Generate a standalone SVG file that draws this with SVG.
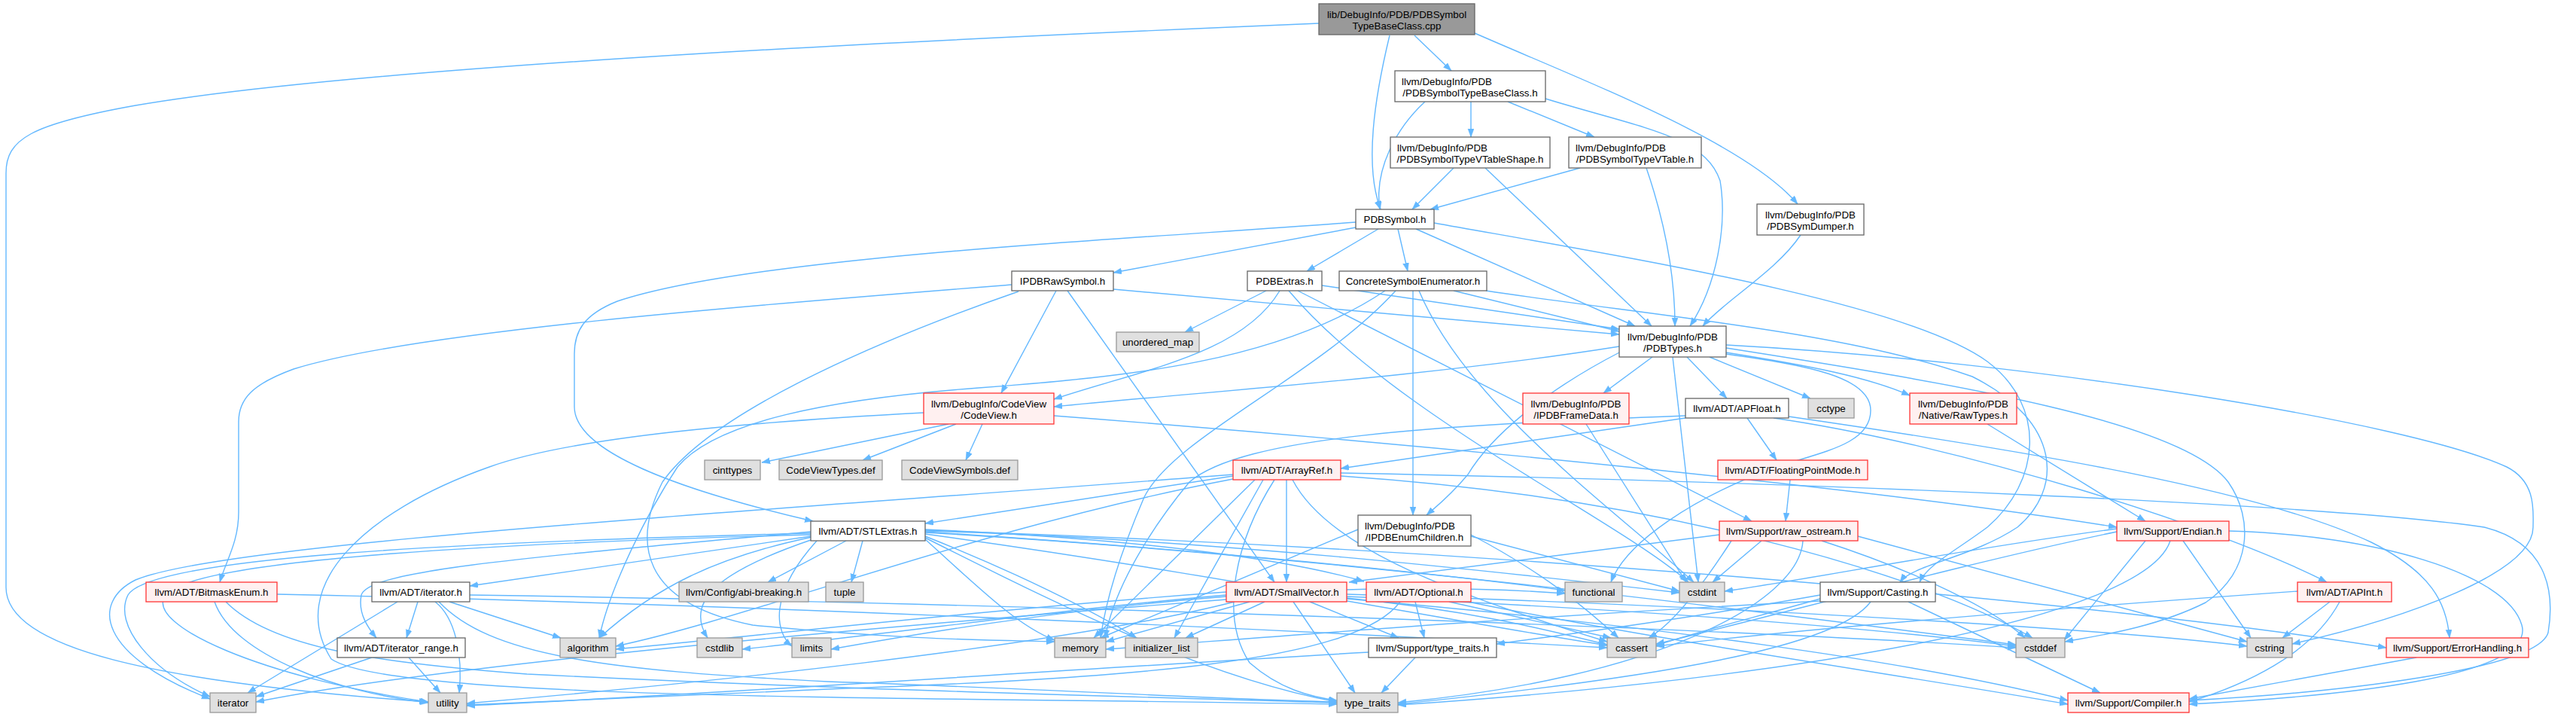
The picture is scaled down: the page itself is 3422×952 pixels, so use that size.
<svg xmlns="http://www.w3.org/2000/svg" width="3422" height="952" viewBox="0 0 3422 952">
<style>
text{font-family:"Liberation Sans",Arial,Helvetica,sans-serif;font-size:13.33px;fill:#000}
.m{text-anchor:middle}
.s{text-anchor:start}
.w{fill:#fff;stroke:#666;stroke-width:1.3}
.g{fill:#e0e0e0;stroke:#999;stroke-width:1.3}
.r{fill:#fff0f0;stroke:#f33;stroke-width:1.3}
.root{fill:#999;stroke:#666;stroke-width:1.3}
.e path{fill:none;stroke:#63b8ff;stroke-width:1.4;marker-end:url(#a)}
</style>
<defs>
<marker id="a" markerUnits="userSpaceOnUse" markerWidth="12" markerHeight="10" refX="11" refY="4" orient="auto">
<path d="M0,0 L11,4 L0,8 z" fill="#63b8ff" stroke="#63b8ff" stroke-width="0.5"/>
</marker>
</defs>
<rect width="3422" height="952" fill="#fff"/>
<g id="connectors" class="e">
<path d="M1879,47 L1928,94"/>
<path d="M1846,47 C1826,130 1812,220 1834,278"/>
<path d="M1959,44 C2110,110 2320,190 2388,271"/>
<path d="M1752,31 C1300,50 500,85 180,140 C40,165 8,185 8,230 L8,780 C8,860 200,905 568,932"/>
<path d="M1893,135 C1855,170 1825,225 1833,278"/>
<path d="M1954,135 L1954,182"/>
<path d="M2003,135 L2118,182"/>
<path d="M2053,131 C2180,170 2265,180 2285,240 C2295,300 2280,380 2245,433"/>
<path d="M1931,223 L1876,278"/>
<path d="M1973,223 L2194,433"/>
<path d="M2099,223 L1900,278"/>
<path d="M2187,223 C2210,290 2225,360 2225,433"/>
<path d="M2392,312 C2360,360 2290,400 2262,433"/>
<path d="M1801,302 L1479,362"/>
<path d="M1831,304 L1736,360"/>
<path d="M1857,304 L1870,360"/>
<path d="M1881,304 L2172,433"/>
<path d="M1801,295 C1500,318 1000,340 820,400 C775,418 763,440 763,470 L763,540 C763,600 900,650 1080,692"/>
<path d="M1905,296 C2150,340 2530,400 2640,480 C2720,540 2710,640 2640,700 C2600,730 2560,750 2550,773"/>
<path d="M1479,384 C1750,410 2000,430 2151,444"/>
<path d="M1403,386 L1330,522"/>
<path d="M1344,378 C1000,405 550,440 390,490 C335,510 317,530 317,560 L317,680 C317,720 300,745 292,773"/>
<path d="M1418,386 L1693,773"/>
<path d="M1353,387 C1200,440 950,540 880,640 C840,720 850,800 1000,830 C1200,850 1330,850 1401,852"/>
<path d="M1682,386 L1574,441"/>
<path d="M1700,386 C1650,470 1520,490 1400,530"/>
<path d="M1756,379 L2151,437"/>
<path d="M1724,386 L2327,692"/>
<path d="M1712,386 C1850,550 2150,690 2243,773"/>
<path d="M1877,386 L1877,684"/>
<path d="M1931,386 L2151,440"/>
<path d="M1974,386 C2200,420 2450,440 2620,500 C2740,560 2740,650 2680,700 C2620,740 2540,750 2524,773"/>
<path d="M1840,386 C1700,480 1500,500 1300,515 C1100,530 950,560 900,620 C860,680 810,780 796,847"/>
<path d="M1885,386 C1950,540 2150,680 2250,773"/>
<path d="M1854,386 C1750,500 1560,580 1520,660 C1490,730 1470,790 1462,847"/>
<path d="M2151,460 C1900,500 1600,520 1400,540"/>
<path d="M2153,467 C2050,520 1980,580 1950,630 C1925,660 1905,675 1895,684"/>
<path d="M2195,474 L2130,522"/>
<path d="M2293,468 C2400,485 2480,500 2537,525"/>
<path d="M2241,474 L2294,529"/>
<path d="M2271,474 L2405,529"/>
<path d="M2293,462 C2600,510 2900,560 2960,640 C2995,690 2990,760 2930,800 C2860,835 2780,845 2743,852"/>
<path d="M2222,474 L2256,773"/>
<path d="M2293,458 C2700,480 3200,560 3330,620 C3370,640 3365,680 3365,700 C3365,760 3200,820 3045,855"/>
<path d="M2293,470 C2400,485 2485,500 2485,545 C2485,590 2420,600 2360,620 C2250,660 2160,720 2140,773"/>
<path d="M1260,563 L1012,614"/>
<path d="M1270,563 L1146,611"/>
<path d="M1305,563 L1283,611"/>
<path d="M1227,548 C1000,560 760,580 650,620 C480,680 380,780 440,875 C520,930 1200,925 1776,935"/>
<path d="M1400,552 C1900,590 2500,650 2812,700"/>
<path d="M2107,563 L2240,773"/>
<path d="M2239,555 L1781,622"/>
<path d="M2321,555 L2360,611"/>
<path d="M2356,555 C2600,590 2950,700 3091,773"/>
<path d="M2376,553 C2700,600 3000,650 3150,720 C3230,760 3250,800 3254,847"/>
<path d="M2239,552 C1900,565 1650,580 1580,640 C1530,700 1480,780 1468,847"/>
<path d="M1638,632 L1229,695"/>
<path d="M1709,637 L1709,773"/>
<path d="M1781,628 C2400,640 3100,670 3300,700 C3380,720 3395,780 3385,840 C3370,890 3100,920 2908,930"/>
<path d="M1638,636 C1300,700 1000,820 818,858"/>
<path d="M1781,632 C2200,660 2550,760 2700,847"/>
<path d="M1678,637 L1560,847"/>
<path d="M1638,630 C1000,680 300,720 180,770 C120,800 130,870 279,928"/>
<path d="M1667,637 L1453,847"/>
<path d="M1717,637 C1760,720 1900,780 2135,852"/>
<path d="M1693,637 C1640,720 1620,820 1660,880 C1700,915 1740,925 1776,930"/>
<path d="M2378,637 L2372,692"/>
<path d="M1124,718 L1020,773"/>
<path d="M1146,718 L1131,773"/>
<path d="M1077,712 L624,778"/>
<path d="M1077,706 C700,740 490,757 480,790 C475,815 490,835 500,847"/>
<path d="M1079,713 C950,740 870,780 796,847"/>
<path d="M1080,716 C950,760 910,800 940,847"/>
<path d="M1085,718 C1020,790 1030,840 1052,858"/>
<path d="M1077,708 C600,720 200,740 170,790 C150,830 200,890 279,925"/>
<path d="M1077,710 C700,720 260,740 220,790 C190,830 350,900 569,932"/>
<path d="M1229,716 C1300,780 1350,830 1401,850"/>
<path d="M1229,712 C1350,760 1450,810 1510,847"/>
<path d="M1229,706 C1600,730 1900,760 2079,784"/>
<path d="M1229,714 C1400,800 1600,900 1776,932"/>
<path d="M1229,709 C1600,760 1900,820 2135,857"/>
<path d="M1229,707 C1800,740 2400,820 2678,856"/>
<path d="M1229,705 C1600,715 2000,760 2231,787"/>
<path d="M1229,703 C1500,715 1700,740 1812,772"/>
<path d="M1229,704 C2000,730 2800,800 3170,860"/>
<path d="M285,799 C310,870 450,920 569,933"/>
<path d="M300,799 C360,860 500,880 700,895 C1100,915 1500,925 1776,933"/>
<path d="M368,789 C900,800 1600,830 2135,860"/>
<path d="M555,799 L540,847"/>
<path d="M597,799 L745,847"/>
<path d="M528,799 L329,920"/>
<path d="M578,799 C605,820 615,870 610,920"/>
<path d="M624,790 C1300,800 2200,830 2678,860"/>
<path d="M583,799 C650,870 800,890 1100,905 C1400,915 1600,928 1776,932"/>
<path d="M494,873 L340,925"/>
<path d="M543,873 L585,920"/>
<path d="M1789,795 C2200,830 2550,880 2747,930"/>
<path d="M1740,799 L1858,847"/>
<path d="M1629,786 C1300,810 1000,845 818,862"/>
<path d="M1789,794 C1950,810 2050,835 2135,856"/>
<path d="M1789,792 C2200,810 2500,835 2678,858"/>
<path d="M1629,790 C1400,810 1200,840 986,862"/>
<path d="M1789,789 C2300,805 2800,835 2985,858"/>
<path d="M1789,783 C1900,780 2000,782 2079,788"/>
<path d="M1680,799 L1575,847"/>
<path d="M1629,796 C1200,830 600,880 340,932"/>
<path d="M1629,792 C1400,810 1200,845 1104,862"/>
<path d="M1660,799 L1469,852"/>
<path d="M1718,799 L1800,920"/>
<path d="M1640,799 C1400,860 900,910 620,934"/>
<path d="M1880,799 L1892,847"/>
<path d="M1950,799 C2200,850 2550,900 2747,935"/>
<path d="M1925,799 L2140,847"/>
<path d="M1860,799 C1800,880 1500,900 1100,915 C900,925 700,932 620,936"/>
<path d="M2535,799 L2790,920"/>
<path d="M2418,790 C2250,820 2100,840 1988,855"/>
<path d="M2418,795 C2330,820 2250,840 2200,857"/>
<path d="M2418,798 C2000,820 1700,845 1469,862"/>
<path d="M2485,799 C2440,860 2200,900 1857,935"/>
<path d="M1954,710 C2050,760 2110,810 2150,847"/>
<path d="M1954,712 L2231,785"/>
<path d="M1804,703 L1462,847"/>
<path d="M2284,710 C2050,740 1900,760 1792,773"/>
<path d="M2340,718 L2275,773"/>
<path d="M2300,718 C2260,780 2220,830 2190,847"/>
<path d="M2420,718 C2550,760 2650,810 2690,847"/>
<path d="M2468,712 L2985,852"/>
<path d="M2395,718 C2390,800 2200,900 1857,933"/>
<path d="M2961,705 C3150,710 3330,760 3350,830 C3370,900 3100,925 2908,935"/>
<path d="M2812,706 C2600,750 2350,820 2200,855"/>
<path d="M2850,718 L2742,850"/>
<path d="M2812,702 C2600,730 2400,770 2291,785"/>
<path d="M2900,718 L2990,847"/>
<path d="M2883,718 C2850,820 2400,900 1857,936"/>
<path d="M3095,799 L3032,847"/>
<path d="M3108,799 C3070,870 2980,910 2908,932"/>
<path d="M3052,785 C2700,810 2400,835 2200,858"/>
<path d="M3210,873 L2908,928"/>
<path d="M1880,873 L1835,920"/>
<path d="M1818,866 C1400,890 900,925 620,937"/>
<path d="M2640,563 L2850,692"/>
</g>
<g id="n0"><rect class="root" x="1752" y="5" width="207" height="41"/><text class="m" x="1855.5" y="23.5">lib/DebugInfo/PDB/PDBSymbol</text><text class="m" x="1855.5" y="38.5">TypeBaseClass.cpp</text></g>
<g id="n1"><rect class="w" x="1853" y="94" width="200" height="41"/><text class="s" x="1862" y="112.5">llvm/DebugInfo/PDB</text><text class="m" x="1953" y="127.5">/PDBSymbolTypeBaseClass.h</text></g>
<g id="n2"><rect class="w" x="1847" y="182" width="212" height="41"/><text class="s" x="1856" y="200.5">llvm/DebugInfo/PDB</text><text class="m" x="1953" y="215.5">/PDBSymbolTypeVTableShape.h</text></g>
<g id="n3"><rect class="w" x="2084" y="182" width="176" height="41"/><text class="s" x="2093" y="200.5">llvm/DebugInfo/PDB</text><text class="m" x="2172" y="215.5">/PDBSymbolTypeVTable.h</text></g>
<g id="n4"><rect class="w" x="1801" y="278" width="104" height="26"/><text class="m" x="1853" y="296">PDBSymbol.h</text></g>
<g id="n5"><rect class="w" x="2334" y="271" width="142" height="41"/><text class="m" x="2405" y="289.5">llvm/DebugInfo/PDB</text><text class="m" x="2405" y="304.5">/PDBSymDumper.h</text></g>
<g id="n6"><rect class="w" x="1344" y="360" width="135" height="26"/><text class="m" x="1411.5" y="378">IPDBRawSymbol.h</text></g>
<g id="n7"><rect class="w" x="1657" y="360" width="99" height="26"/><text class="m" x="1706.5" y="378">PDBExtras.h</text></g>
<g id="n8"><rect class="w" x="1779" y="360" width="196" height="26"/><text class="m" x="1877" y="378">ConcreteSymbolEnumerator.h</text></g>
<g id="n9"><rect class="w" x="2151" y="433" width="142" height="41"/><text class="m" x="2222" y="451.5">llvm/DebugInfo/PDB</text><text class="m" x="2222" y="466.5">/PDBTypes.h</text></g>
<g id="n10"><rect class="g" x="1483" y="441" width="110" height="26"/><text class="m" x="1538" y="459">unordered_map</text></g>
<g id="n11"><rect class="r" x="1227" y="522" width="173" height="41"/><text class="m" x="1313.5" y="540.5">llvm/DebugInfo/CodeView</text><text class="m" x="1313.5" y="555.5">/CodeView.h</text></g>
<g id="n12"><rect class="r" x="2023" y="522" width="141" height="41"/><text class="m" x="2093.5" y="540.5">llvm/DebugInfo/PDB</text><text class="m" x="2093.5" y="555.5">/IPDBFrameData.h</text></g>
<g id="n13"><rect class="w" x="2239" y="529" width="137" height="26"/><text class="m" x="2307.5" y="547">llvm/ADT/APFloat.h</text></g>
<g id="n14"><rect class="g" x="2402" y="529" width="61" height="26"/><text class="m" x="2432.5" y="547">cctype</text></g>
<g id="n15"><rect class="r" x="2537" y="522" width="142" height="41"/><text class="m" x="2608" y="540.5">llvm/DebugInfo/PDB</text><text class="m" x="2608" y="555.5">/Native/RawTypes.h</text></g>
<g id="n16"><rect class="g" x="936" y="611" width="74" height="26"/><text class="m" x="973" y="629">cinttypes</text></g>
<g id="n17"><rect class="g" x="1035" y="611" width="137" height="26"/><text class="m" x="1103.5" y="629">CodeViewTypes.def</text></g>
<g id="n18"><rect class="g" x="1198" y="611" width="154" height="26"/><text class="m" x="1275" y="629">CodeViewSymbols.def</text></g>
<g id="n19"><rect class="r" x="1638" y="611" width="143" height="26"/><text class="m" x="1709.5" y="629">llvm/ADT/ArrayRef.h</text></g>
<g id="n20"><rect class="r" x="2282" y="611" width="199" height="26"/><text class="m" x="2381.5" y="629">llvm/ADT/FloatingPointMode.h</text></g>
<g id="n21"><rect class="w" x="1077" y="692" width="152" height="26"/><text class="m" x="1153" y="710">llvm/ADT/STLExtras.h</text></g>
<g id="n22"><rect class="w" x="1804" y="684" width="150" height="41"/><text class="s" x="1813" y="702.5">llvm/DebugInfo/PDB</text><text class="m" x="1879" y="717.5">/IPDBEnumChildren.h</text></g>
<g id="n23"><rect class="r" x="2284" y="692" width="184" height="26"/><text class="m" x="2376" y="710">llvm/Support/raw_ostream.h</text></g>
<g id="n24"><rect class="r" x="2812" y="692" width="149" height="26"/><text class="m" x="2886.5" y="710">llvm/Support/Endian.h</text></g>
<g id="n25"><rect class="r" x="194" y="773" width="174" height="26"/><text class="m" x="281" y="791">llvm/ADT/BitmaskEnum.h</text></g>
<g id="n26"><rect class="w" x="494" y="773" width="130" height="26"/><text class="m" x="559" y="791">llvm/ADT/iterator.h</text></g>
<g id="n27"><rect class="g" x="902" y="773" width="172" height="26"/><text class="m" x="988" y="791">llvm/Config/abi-breaking.h</text></g>
<g id="n28"><rect class="g" x="1097" y="773" width="50" height="26"/><text class="m" x="1122" y="791">tuple</text></g>
<g id="n29"><rect class="r" x="1629" y="773" width="160" height="26"/><text class="m" x="1709" y="791">llvm/ADT/SmallVector.h</text></g>
<g id="n30"><rect class="r" x="1815" y="773" width="139" height="26"/><text class="m" x="1884.5" y="791">llvm/ADT/Optional.h</text></g>
<g id="n31"><rect class="g" x="2079" y="773" width="76" height="26"/><text class="m" x="2117" y="791">functional</text></g>
<g id="n32"><rect class="g" x="2231" y="773" width="60" height="26"/><text class="m" x="2261" y="791">cstdint</text></g>
<g id="n33"><rect class="w" x="2418" y="773" width="153" height="26"/><text class="m" x="2494.5" y="791">llvm/Support/Casting.h</text></g>
<g id="n34"><rect class="r" x="3052" y="773" width="125" height="26"/><text class="m" x="3114.5" y="791">llvm/ADT/APInt.h</text></g>
<g id="n35"><rect class="w" x="448" y="847" width="170" height="26"/><text class="m" x="533" y="865">llvm/ADT/iterator_range.h</text></g>
<g id="n36"><rect class="g" x="744" y="847" width="74" height="26"/><text class="m" x="781" y="865">algorithm</text></g>
<g id="n37"><rect class="g" x="926" y="847" width="60" height="26"/><text class="m" x="956" y="865">cstdlib</text></g>
<g id="n38"><rect class="g" x="1052" y="847" width="52" height="26"/><text class="m" x="1078" y="865">limits</text></g>
<g id="n39"><rect class="g" x="1401" y="847" width="68" height="26"/><text class="m" x="1435" y="865">memory</text></g>
<g id="n40"><rect class="g" x="1495" y="847" width="96" height="26"/><text class="m" x="1543" y="865">initializer_list</text></g>
<g id="n41"><rect class="w" x="1818" y="847" width="170" height="26"/><text class="m" x="1903" y="865">llvm/Support/type_traits.h</text></g>
<g id="n42"><rect class="g" x="2135" y="847" width="65" height="26"/><text class="m" x="2167.5" y="865">cassert</text></g>
<g id="n43"><rect class="g" x="2678" y="847" width="65" height="26"/><text class="m" x="2710.5" y="865">cstddef</text></g>
<g id="n44"><rect class="g" x="2985" y="847" width="60" height="26"/><text class="m" x="3015" y="865">cstring</text></g>
<g id="n45"><rect class="r" x="3170" y="847" width="189" height="26"/><text class="m" x="3264.5" y="865">llvm/Support/ErrorHandling.h</text></g>
<g id="n46"><rect class="g" x="279" y="920" width="61" height="26"/><text class="m" x="309.5" y="938">iterator</text></g>
<g id="n47"><rect class="g" x="569" y="920" width="51" height="26"/><text class="m" x="594.5" y="938">utility</text></g>
<g id="n48"><rect class="g" x="1776" y="920" width="81" height="26"/><text class="m" x="1816.5" y="938">type_traits</text></g>
<g id="n49"><rect class="r" x="2747" y="920" width="161" height="26"/><text class="m" x="2827.5" y="938">llvm/Support/Compiler.h</text></g>
</svg>
